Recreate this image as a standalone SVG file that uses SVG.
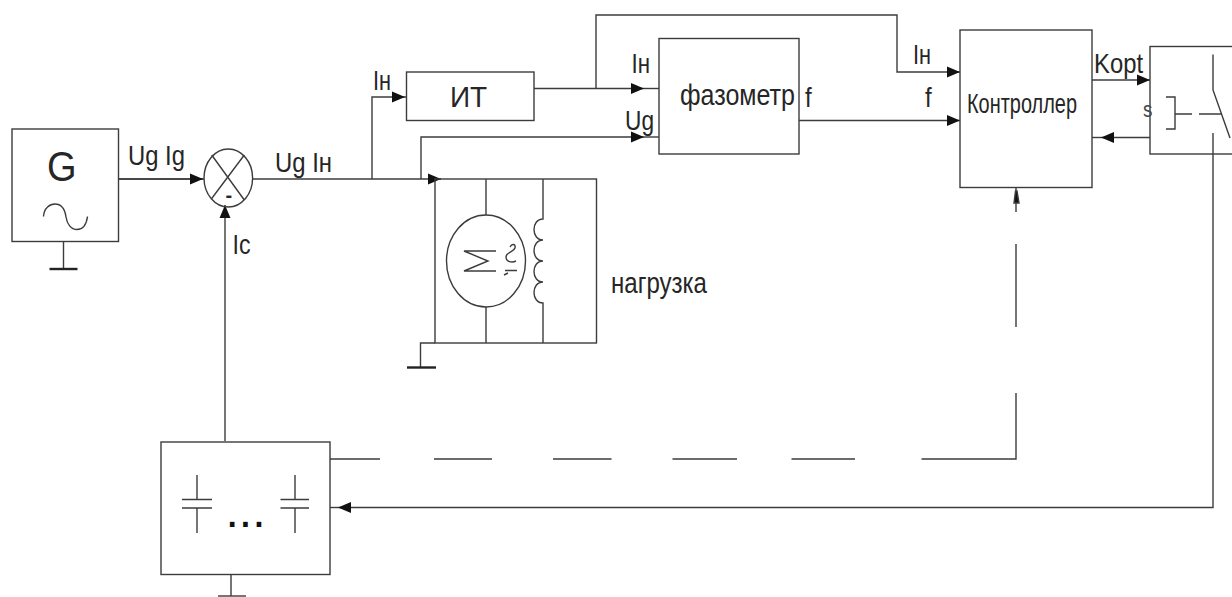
<svg xmlns="http://www.w3.org/2000/svg" width="1232" height="597" viewBox="0 0 1232 597">
<style>
.l{fill:none;stroke:#3c3c3c;stroke-width:1.4}
.t{stroke-width:2.4;stroke:#222;fill:none}
.a{marker-end:url(#ah)}
text{font-family:"Liberation Sans",Arial,sans-serif;fill:#262626;font-size:24px}
</style>
<defs>
<marker id="ah" markerUnits="userSpaceOnUse" markerWidth="14" markerHeight="12" refX="13" refY="6" orient="auto" overflow="visible">
<path d="M0 0.5L13 6L0 11.5Z" fill="#111"/>
</marker>
</defs>
<rect width="1232" height="597" fill="#fff"/>
<g id="connectors" class="l">
<path class="l" d="M118.5 179H204"/>
<path class="l a" d="M118.5 179H203"/>
<path class="l a" d="M225 441V205"/>
<path class="l a" d="M253 179H441"/>
<path class="l a" d="M372 179V97H405"/>
<path class="l" d="M405 97H406.5"/>
<path class="l a" d="M534 88.5H644"/>
<path class="l" d="M644 88.5H659"/>
<path class="l a" d="M596 88.5V15H897V72H960"/>
<path class="l a" d="M421 179V137H644"/>
<path class="l" d="M644 137H659"/>
<path class="l a" d="M799 120.5H960"/>
<path class="l a" d="M1092 80H1150"/>
<path class="l a" d="M1150 137.5H1101"/>
<path class="l" d="M1101 137.5H1092"/>
<path class="l a" d="M1213 133V507.5H338"/>
<path class="l" d="M338 507.5H330"/>
<path class="l" d="M330 459H380M434 459H492M553 459H611.5M672.5 459H737M791.5 459H855M921.5 459H1016V393M1016 327V244M1016 212V187.5"/>
<path d="M1014 203L1015.5 191L1017 191L1019 203Z" fill="#111"/>
</g>
<g id="generator">
<rect class="l" x="12" y="129" width="106.5" height="112.5"/>
<path class="l" d="M43.5 216.5C44 208 50 204 55 204C62 204 65 210 66 217C67 224 71 229.5 77 229.5C83 229.5 86.5 224 87.5 216.5"/>
<path class="l" d="M63.5 241.5V269"/>
<path class="t" d="M49.5 269H77.5"/>
<text transform="matrix(1 0 0 1.1 47 181)" style="font-size:38px">G</text>
</g>
<g id="summer">
<ellipse class="l" cx="228.3" cy="178" rx="24.3" ry="29"/>
<path class="l" d="M211.7 155L244.3 200M244.3 155L211.7 198.5"/>
<text transform="translate(225.5 201.5)" style="font-size:20px;font-weight:bold">-</text>
</g>
<g id="it">
<rect class="l" x="406.5" y="72" width="127.5" height="48.5"/>
<text transform="matrix(1 0 0 1.05 450 106.5)" style="font-size:28px">ИТ</text>
</g>
<g id="phasemeter">
<rect class="l" x="659" y="38.5" width="140" height="115.5"/>
<text transform="matrix(1 0 0 1.2 680 105)" textLength="115" lengthAdjust="spacingAndGlyphs">фазометр</text>
</g>
<g id="controller">
<rect class="l" x="960" y="30" width="132" height="157.5"/>
<text transform="matrix(1 0 0 1.35 967 113)" textLength="110" lengthAdjust="spacingAndGlyphs" style="font-size:20px">Контроллер</text>
</g>
<g id="switch">
<rect class="l" x="1150" y="46.5" width="100" height="107.5"/>
<path class="l" d="M1213 54.5V90L1230 138M1166 97H1175V129H1166M1175 114H1192M1199 114H1221"/>
<text transform="matrix(1 0 0 1.15 1143 117)" style="font-size:19px;fill:#4a4a4a">s</text>
</g>
<g id="load">
<rect class="l" x="435" y="179" width="161.5" height="164"/>
<ellipse class="l" cx="486" cy="261" rx="39.5" ry="46"/>
<path class="l" d="M486 179V215M486 307V343"/>
<path class="l" d="M496 251H464L488 261L464 271H496"/>
<path class="l" d="M510 247C512 243 516 244 515 248C514 252 506 252 506 257C506 262 512 263 516 261M505 270.5H517M504 275L508 273"/>
<path class="l" d="M543 179V219C531 219 531 240 543 240C531 240 531 261 543 261C531 261 531 282 543 282C531 282 531 303 543 303V343"/>
<path class="l" d="M435 343H420.5V367"/>
<path class="t" d="M407 367.5H436"/>
<text transform="matrix(1 0 0 1.2 611 293)" textLength="96" lengthAdjust="spacingAndGlyphs">нагрузка</text>
</g>
<g id="capacitors">
<rect class="l" x="161" y="442" width="169" height="132.5"/>
<path class="l" d="M197 475V499.5M182 499.5H212M182 508H212M197 508V533"/>
<path class="l" d="M295 475V499.5M280.5 499.5H309M280.5 508H309M295 508V533"/>
<path class="l" d="M231 574.5V596"/>
<path class="l" d="M218 596H246"/>
<text x="225.5" y="527" style="font-size:48px;fill:#111">...</text>
</g>
<g id="labels">
<text transform="matrix(1 0 0 1.15 128 164.5)" textLength="57" lengthAdjust="spacingAndGlyphs">Ug Ig</text>
<text transform="matrix(1 0 0 1.15 275 171.5)" textLength="57" lengthAdjust="spacingAndGlyphs">Ug Iн</text>
<text transform="matrix(1 0 0 1.15 373 90)" textLength="18" lengthAdjust="spacingAndGlyphs">Iн</text>
<text transform="matrix(1 0 0 1.15 631.5 72.5)" textLength="18.5" lengthAdjust="spacingAndGlyphs">Iн</text>
<text transform="matrix(1 0 0 1.15 625 130)" textLength="29" lengthAdjust="spacingAndGlyphs">Ug</text>
<text transform="matrix(1 0 0 1.15 805 106.5)">f</text>
<text transform="matrix(1 0 0 1.15 925 106.5)">f</text>
<text transform="matrix(1 0 0 1.15 913 64)" textLength="18" lengthAdjust="spacingAndGlyphs">Iн</text>
<text transform="matrix(1 0 0 1.15 1094 72.5)" textLength="49" lengthAdjust="spacingAndGlyphs">Kopt</text>
<text transform="matrix(1 0 0 1.15 232.5 254)" textLength="18" lengthAdjust="spacingAndGlyphs">Ic</text>
</g>
</svg>
